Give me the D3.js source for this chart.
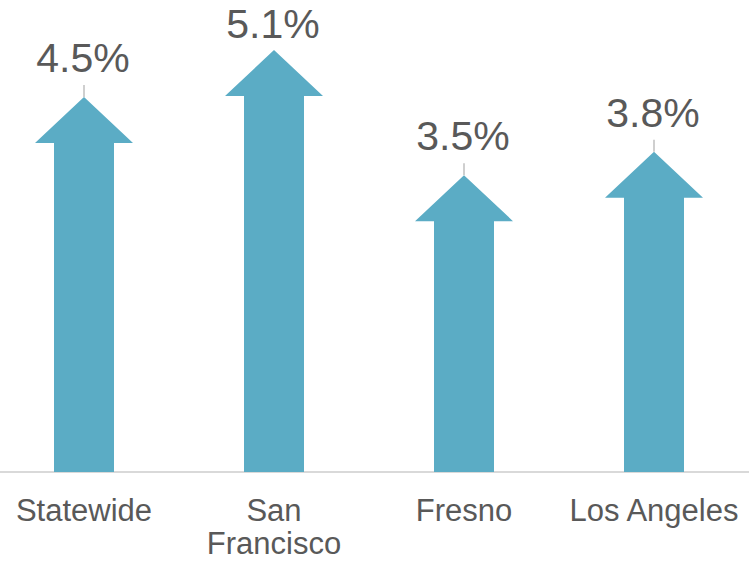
<!DOCTYPE html>
<html>
<head>
<meta charset="utf-8">
<script src="https://cdn.jsdelivr.net/npm/d3@7"></script>
<style>
  body { margin: 0; background: #fff; }
  svg { display: block; font-family: "Liberation Sans", Arial, sans-serif; }
</style>
</head>
<body>
<div id="chart"></div>
<script>
// data
var categories = ["Statewide", "San Francisco", "Fresno", "Los Angeles"];
var tickLines = [["Statewide"], ["San", "Francisco"], ["Fresno"], ["Los Angeles"]];
var values = [4.5, 5.1, 3.5, 3.8];

var width = 749, height = 562,
    baseY = 472,
    shaftW = 60, headW = 98, headH = 46;

var svg = d3.select("#chart").append("svg")
  .attr("width", width)
  .attr("height", height);

var x = d3.scaleBand()
  .domain(categories)
  .range([-11, 749])
  .padding(0);

// value sits at the middle of the arrow head
var y = d3.scaleLinear()
  .domain([0, 5.1])
  .range([baseY, 73]);

var fmt = function(v){ return d3.format(".1f")(v) + "%"; };

// axis
var axis = svg.append("g")
  .attr("transform", "translate(0," + baseY + ")")
  .call(d3.axisBottom(x).tickSize(0).tickFormat(""));
axis.select(".domain")
  .attr("d", "M0,0H" + width)
  .style("stroke", "#d9d9d9")
  .style("stroke-width", "2px");

// arrows
function arrowPath(d){
  var cx = x(d.cat) + x.bandwidth() / 2,
      mid = y(d.v),
      tip = mid - headH / 2,
      neck = mid + headH / 2;
  return "M" + cx + "," + tip +
    "L" + (cx + headW / 2) + "," + neck +
    "L" + (cx + shaftW / 2) + "," + neck +
    "L" + (cx + shaftW / 2) + "," + baseY +
    "L" + (cx - shaftW / 2) + "," + baseY +
    "L" + (cx - shaftW / 2) + "," + neck +
    "L" + (cx - headW / 2) + "," + neck + "Z";
}

var rows = categories.map(function(c, i){ return {cat: c, v: values[i], lines: tickLines[i]}; });

svg.append("g").selectAll("path")
  .data(rows)
  .enter()
  .append("path")
  .attr("d", arrowPath)
  .attr("fill", "#5bacc5");

// data labels with leader lines
var labels = svg.append("g").selectAll("g")
  .data(rows)
  .enter()
  .append("g");

function labelY(d){ return Math.max(38, y(d.v) - 48); }

labels.append("line")
  .filter(function(d){ return labelY(d) + 13 < y(d.v) - headH / 2; })
  .attr("x1", function(d){ return x(d.cat) + x.bandwidth() / 2; })
  .attr("x2", function(d){ return x(d.cat) + x.bandwidth() / 2; })
  .attr("y1", function(d){ return labelY(d) + 13; })
  .attr("y2", function(d){ return y(d.v) - headH / 2; })
  .style("stroke", "#cfcfcf")
  .style("stroke-width", "2px");

labels.append("text")
  .attr("x", function(d){ return x(d.cat) + x.bandwidth() / 2 - 1; })
  .attr("y", labelY)
  .attr("text-anchor", "middle")
  .style("font-size", "41px")
  .style("fill", "#595959")
  .text(function(d){ return fmt(d.v); });

// category labels
var ticks = svg.append("g").selectAll("text")
  .data(rows)
  .enter()
  .append("text")
  .attr("text-anchor", "middle")
  .attr("x", function(d){ return x(d.cat) + x.bandwidth() / 2; })
  .attr("y", 521)
  .style("font-size", "31px")
  .style("fill", "#595959");

ticks.selectAll("tspan")
  .data(function(d){ return d.lines.map(function(l){ return {line: l, cx: x(d.cat) + x.bandwidth() / 2}; }); })
  .enter()
  .append("tspan")
  .attr("x", function(d){ return d.cx; })
  .attr("dy", function(d, i){ return i === 0 ? 0 : 33; })
  .text(function(d){ return d.line; });
</script>
</body>
</html>
